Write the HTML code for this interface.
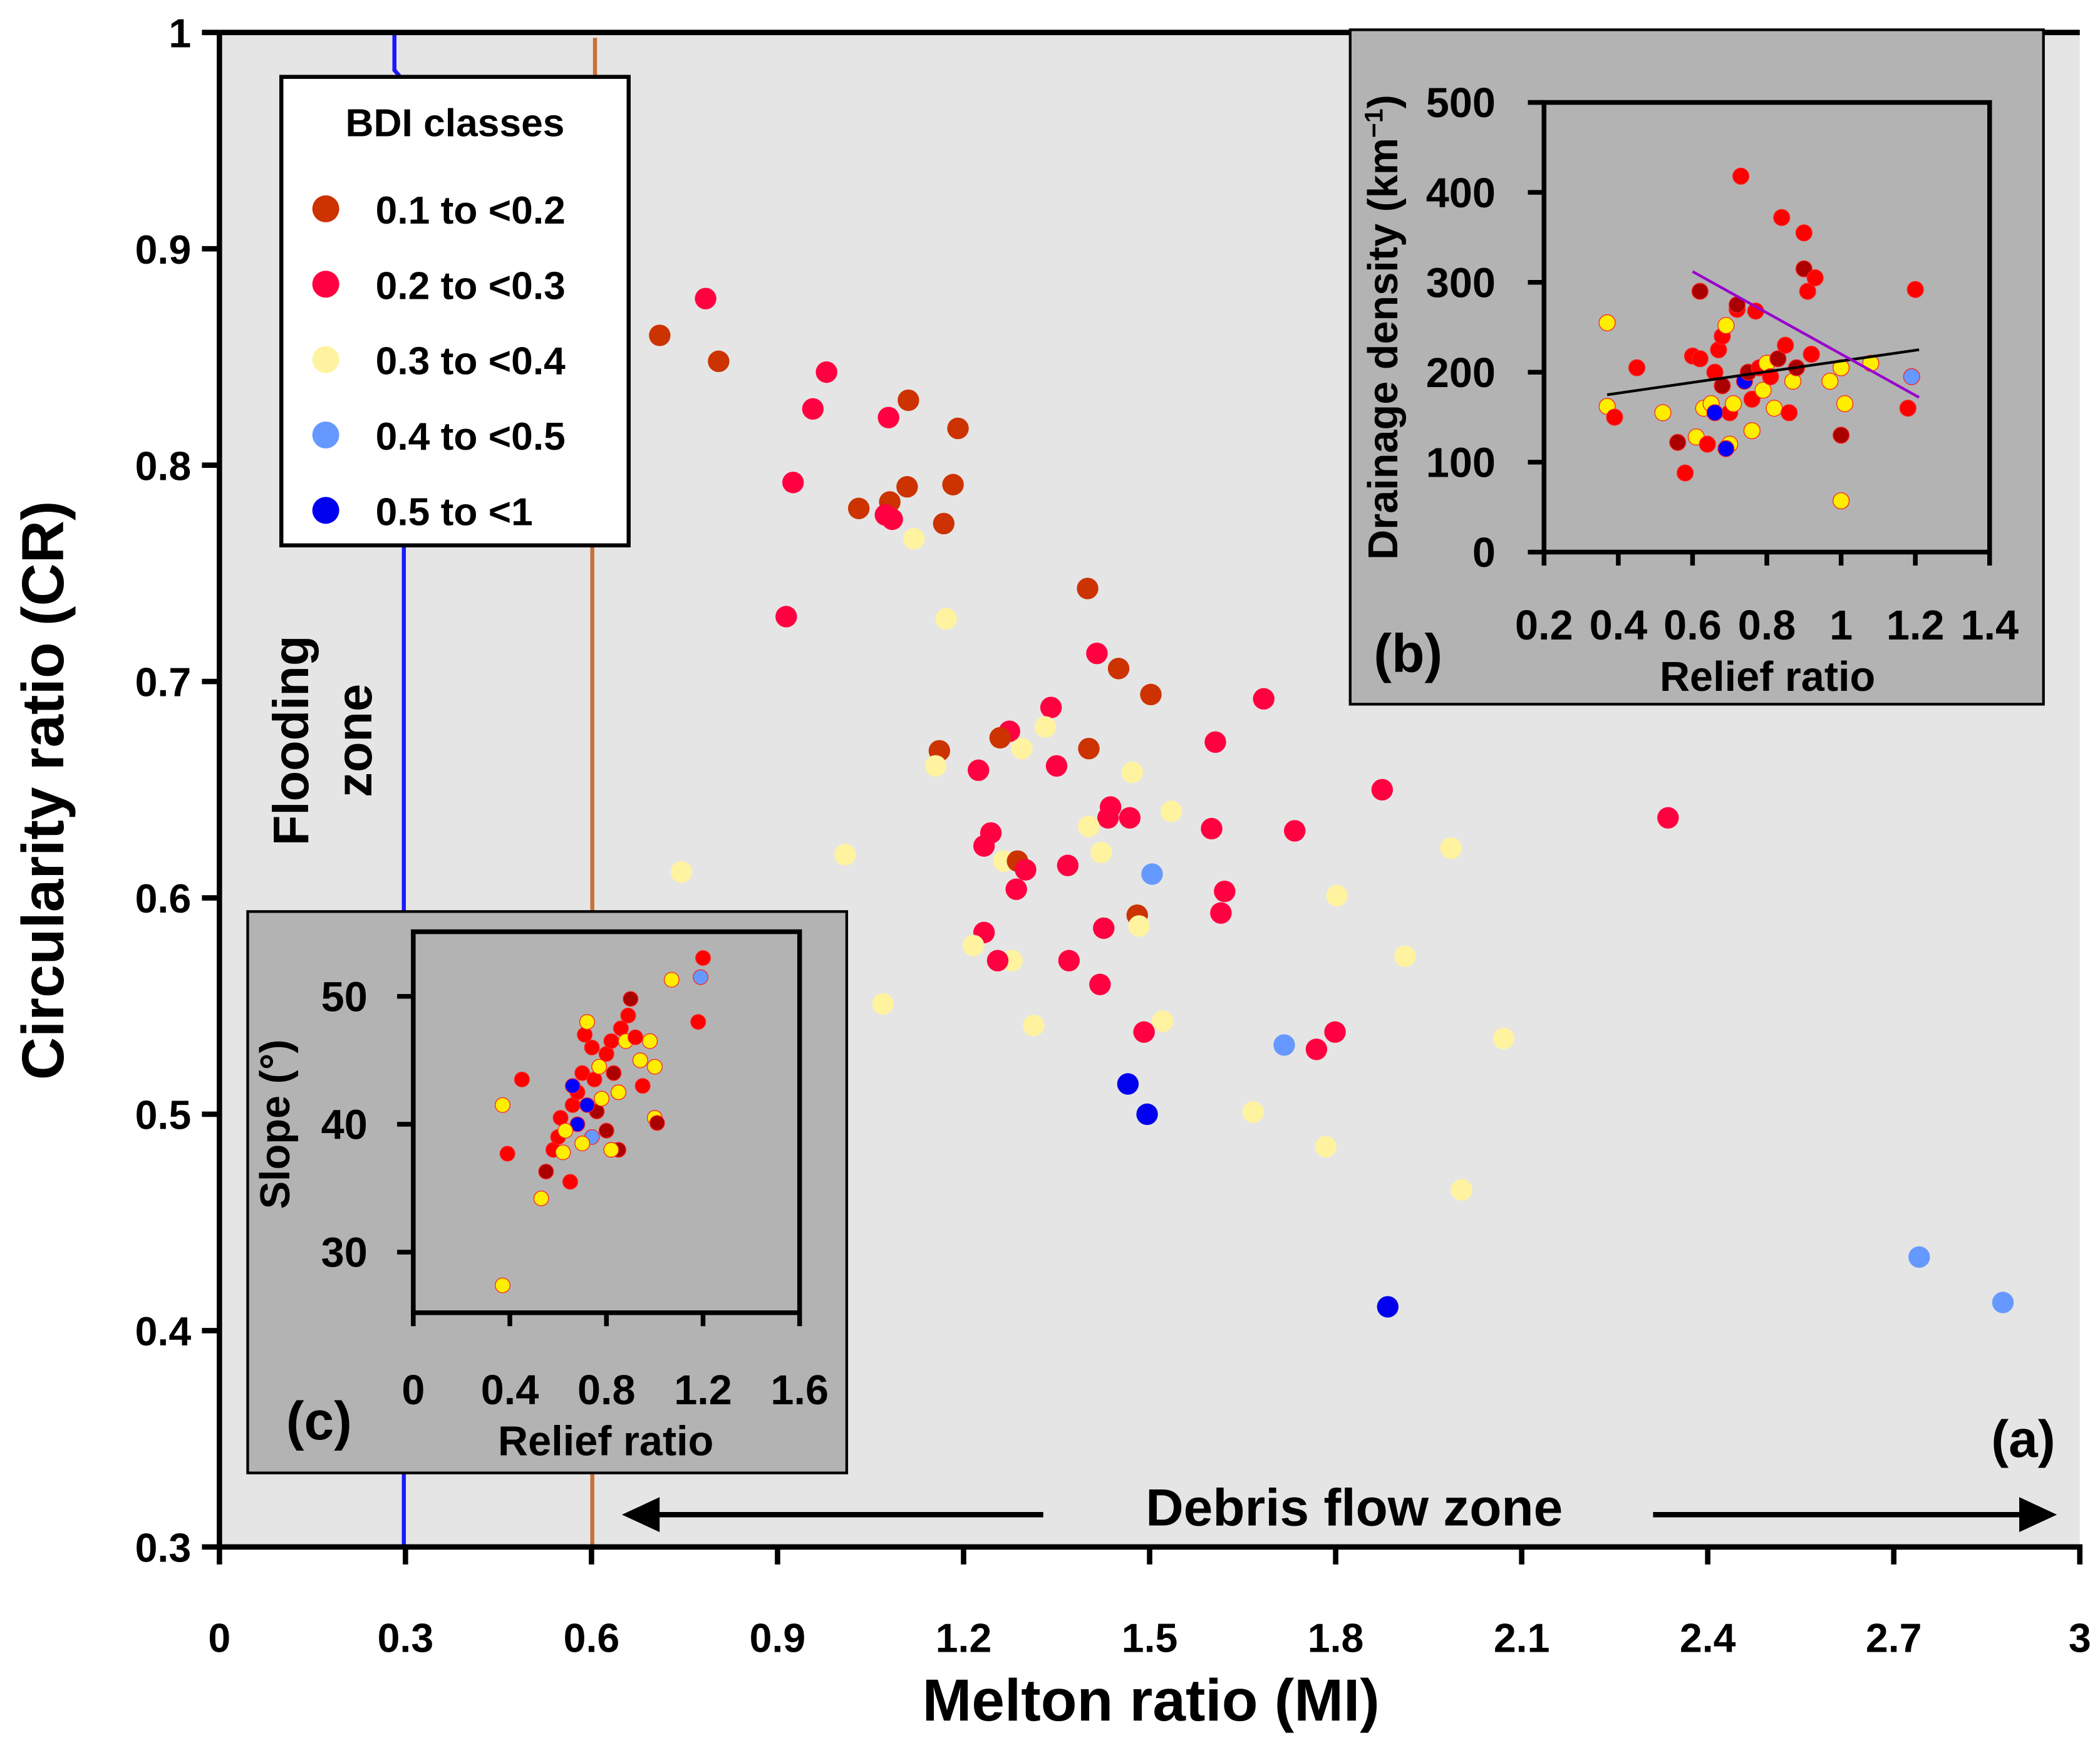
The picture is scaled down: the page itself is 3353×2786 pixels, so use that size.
<!DOCTYPE html>
<html><head><meta charset="utf-8"><style>
html,body{margin:0;padding:0;background:#fff}
svg{display:block}
text{font-family:"Liberation Sans",Arial,sans-serif;font-weight:bold;fill:#000}
</style></head><body>
<svg id="chart" width="3353" height="2786" viewBox="0 0 1560 1296" xmlns="http://www.w3.org/2000/svg">
<rect x="0" y="0" width="1560" height="1296" fill="#fff"/>
<rect x="163" y="24" width="1382" height="1125" fill="#e5e5e5"/>
<g id="main"></g>
<g id="insetB"></g>
<g id="insetC"></g>
</svg>
<script>
// Main chart data (Melton ratio, circularity ratio, BDI class index 0..4)
const mainX = [0.71,0.784,0.805,0.979,0.957,1.079,1.111,1.191,0.925,1.031,1.081,1.074,1.085,1.109,1.183,1.168,1.120,0.914,1.172,1.400,1.415,1.450,1.502,1.684,1.341,1.332,1.274,1.259,1.294,1.161,1.402,1.606,1.155,1.224,1.350,1.472,1.535,1.437,1.433,1.468,1.402,1.600,1.734,1.875,2.336,1.244,1.233,1.265,1.287,1.300,1.422,1.368,1.504,1.009,0.745,1.285,1.621,1.986,1.802,1.615,1.480,1.483,1.426,1.233,1.216,1.912,1.278,1.255,1.370,1.070,1.420,1.313,1.491,1.521,1.799,1.769,1.717,2.071,1.465,1.496,1.667,1.784,2.003,2.741,2.876,1.884];
const mainY = [0.86,0.877,0.848,0.843,0.826,0.822,0.830,0.817,0.792,0.780,0.783,0.777,0.775,0.790,0.791,0.773,0.766,0.730,0.729,0.743,0.713,0.706,0.694,0.692,0.688,0.679,0.677,0.674,0.669,0.668,0.669,0.672,0.661,0.659,0.661,0.658,0.640,0.642,0.637,0.637,0.633,0.632,0.631,0.650,0.637,0.630,0.624,0.617,0.617,0.613,0.621,0.615,0.611,0.620,0.612,0.604,0.603,0.623,0.601,0.593,0.592,0.587,0.586,0.584,0.578,0.573,0.571,0.571,0.571,0.551,0.560,0.541,0.538,0.543,0.538,0.530,0.532,0.535,0.514,0.500,0.501,0.485,0.465,0.434,0.413,0.411];
const mainC = [0,1,0,1,1,1,0,0,1,0,0,1,1,0,0,0,2,1,2,0,1,0,0,1,1,2,1,0,2,0,0,1,2,1,1,2,2,1,1,1,2,1,1,1,1,1,1,2,0,1,2,1,3,2,2,1,1,2,2,1,0,2,1,1,2,2,2,1,1,2,1,2,1,2,1,1,3,2,4,4,2,2,2,3,3,4];
const xTicks = [0,0.3,0.6,0.9,1.2,1.5,1.8,2.1,2.4,2.7,3];
const xTickLabels = ["0","0.3","0.6","0.9","1.2","1.5","1.8","2.1","2.4","2.7","3"];
const yTicks = [0.3,0.4,0.5,0.6,0.7,0.8,0.9,1];
const yTickLabels = ["0.3","0.4","0.5","0.6","0.7","0.8","0.9","1"];
const classLabels = ["0.1 to <0.2","0.2 to <0.3","0.3 to <0.4","0.4 to <0.5","0.5 to <1"];
// Inset b data
const bX = [0.37,0.37,0.39,0.45,0.52,0.56,0.58,0.60,0.61,0.62,0.63,0.64,0.65,0.66,0.67,0.68,0.69,0.70,0.70,0.71,0.72,0.73,0.74,0.75,0.76,0.76,0.77,0.78,0.79,0.80,0.81,0.82,0.83,0.84,0.85,0.86,0.87,0.88,0.90,0.90,0.91,0.93,0.92,0.97,1.00,1.00,1.01,1.00,1.08,1.18,1.20,1.19,0.66,0.69,0.62,0.68,0.72];
const bY = [255,162,150,205,155,122,88,218,128,290,160,120,165,200,225,240,252,120,155,165,270,418,190,200,135,170,268,205,180,210,195,160,215,372,230,155,190,205,315,355,290,305,220,190,205,130,165,57,210,160,292,195,155,115,215,185,275];
const bC = [2,2,1,1,2,0,1,1,2,0,2,1,2,1,1,1,2,2,1,2,1,1,4,0,2,1,1,1,2,2,1,2,0,1,1,1,2,0,0,1,1,1,1,2,2,0,2,2,2,1,1,3,4,4,1,0,0];
const bXTicks = [0.2,0.4,0.6,0.8,1,1.2,1.4];
const bXTickLabels = ["0.2","0.4","0.6","0.8","1","1.2","1.4"];
const bYTicks = [0,100,200,300,400,500];
const bYTickLabels = ["0","100","200","300","400","500"];
const bLineBlack = [[0.37,175],[1.21,225]];
const bLinePurple = [[0.6,312],[1.21,172]];
// Inset c data
const cX = [0.37,0.39,0.45,0.37,0.55,0.53,0.58,0.60,0.61,0.62,0.65,0.66,0.68,0.70,0.71,0.72,0.74,0.75,0.76,0.77,0.78,0.80,0.82,0.83,0.85,0.86,0.88,0.89,0.90,0.92,0.94,0.95,0.98,1.00,1.00,1.01,1.07,1.18,1.19,1.20,0.66,0.68,0.72,0.74,0.85,0.82,0.80,0.70,0.63];
const cY = [41.5,37.7,43.5,27.4,36.3,34.2,38,39,40.5,37.8,35.5,41.5,42.5,44,47,48,46,43.5,41,44.5,42,45.5,46.5,44,42.5,47.5,46.5,48.5,49.8,46.8,45,43,46.5,44.5,40.5,40.1,51.3,48,51.5,53,43,40,41.5,39,38,38,39.5,38.5,39.5];
const cC = [2,1,1,2,0,2,1,1,1,2,1,1,1,1,1,2,1,1,0,2,2,1,1,0,2,1,2,1,0,1,2,1,2,2,2,0,2,1,3,1,4,4,4,3,0,2,0,2,2];
const cXTicks = [0,0.4,0.8,1.2,1.6];
const cXTickLabels = ["0","0.4","0.8","1.2","1.6"];
const cYTicks = [30,40,50];
const cYTickLabels = ["30","40","50"];

const NS="http://www.w3.org/2000/svg";
function mk(parent,tag,attrs,txt){const e=document.createElementNS(NS,tag);for(const k in attrs)e.setAttribute(k,attrs[k]);if(txt!==undefined)e.textContent=txt;parent.appendChild(e);return e;}

const mainColors=["#cc3300","#ff0040","#fff3a0","#6699ff","#0000ee"];
const insetColors=["#aa0000","#ff0000","#ffee00","#6699ff","#0000ff"];

// ===== Main =====
const G=document.getElementById('main');
const sx=v=>163+v*(1545-163)/3;
const sy=v=>1149-(v-0.3)*(1149-24)/0.7;
let e;
e=mk(G,'polyline',{points:'293,24 293,52 300,60 300,1149',fill:'none',stroke:'#1a1aff','stroke-width':3});


e=mk(G,'polyline',{points:'442,28 442,60 440,70 440,1149',fill:'none',stroke:'#c87137','stroke-width':3});


for(let i=0;i<mainX.length;i++){
  e=mk(G,'circle',{cx:sx(mainX[i]),cy:sy(mainY[i]),r:8,fill:mainColors[mainC[i]]});
  
  
}
mk(G,'line',{x1:163,y1:24,x2:1545,y2:24,stroke:'#000','stroke-width':4});
mk(G,'line',{x1:163,y1:24,x2:163,y2:1151,stroke:'#000','stroke-width':4});
mk(G,'line',{x1:161,y1:1149,x2:1547,y2:1149,stroke:'#000','stroke-width':4});
for(let i=0;i<xTicks.length;i++){
  const x=sx(xTicks[i]);
  mk(G,'line',{x1:x,y1:1149,x2:x,y2:1162,stroke:'#000','stroke-width':4});
  e=mk(G,'text',{x:x,y:1227,'text-anchor':'middle','font-size':30},xTickLabels[i]);
  
  
}
for(let i=0;i<yTicks.length;i++){
  const y=sy(yTicks[i]);
  mk(G,'line',{x1:150,y1:y,x2:163,y2:y,stroke:'#000','stroke-width':4});
  e=mk(G,'text',{x:142,y:y+11,'text-anchor':'end','font-size':30},yTickLabels[i]);
  
  
}
e=mk(G,'text',{x:855,y:1278,'text-anchor':'middle','font-size':44},'Melton ratio (MI)');


e=mk(G,'text',{x:0,y:0,'text-anchor':'middle','font-size':44,transform:'translate(47,587) rotate(-90)'},'Circularity ratio (CR)');


e=mk(G,'text',{x:0,y:0,'text-anchor':'middle','font-size':37,transform:'translate(229,550) rotate(-90)'},'Flooding');


mk(G,'text',{x:0,y:0,'text-anchor':'middle','font-size':37,transform:'translate(276,550) rotate(-90)'},'zone');
e=mk(G,'text',{x:1006,y:1133,'text-anchor':'middle','font-size':39},'Debris flow zone');


mk(G,'line',{x1:775,y1:1125,x2:485,y2:1125,stroke:'#000','stroke-width':4});
mk(G,'polygon',{points:'462,1125 490,1112 490,1138',fill:'#000'});
mk(G,'line',{x1:1228,y1:1125,x2:1505,y2:1125,stroke:'#000','stroke-width':4});
mk(G,'polygon',{points:'1528,1125 1500,1112 1500,1138',fill:'#000'});
e=mk(G,'text',{x:1503,y:1082,'text-anchor':'middle','font-size':39},'(a)');


// legend
const L=mk(G,'g',{});


mk(L,'rect',{x:209,y:57,width:258,height:348,fill:'#fff',stroke:'#000','stroke-width':3});
mk(L,'text',{x:338,y:101,'text-anchor':'middle','font-size':29},'BDI classes');
for(let i=0;i<classLabels.length;i++){
  const y=155+i*56;
  const g=mk(L,'g',{});
  
  
  mk(g,'circle',{cx:242,cy:y,r:10,fill:mainColors[i]});
  mk(g,'text',{x:279,y:y+11,'font-size':29},classLabels[i]);
}

// ===== Inset b =====
const B=document.getElementById('insetB');
mk(B,'rect',{x:1003,y:22,width:515,height:501,fill:'#b3b3b3',stroke:'#000','stroke-width':2});
const bx=v=>1147+(v-0.2)*(1478-1147)/1.2;
const by=v=>410-v*(410-76)/500;
for(let i=0;i<bX.length;i++){
  e=mk(B,'circle',{cx:bx(bX[i]),cy:by(bY[i]),r:6,fill:insetColors[bC[i]],stroke:'#ff2020','stroke-width':0.6});
  
  
}
e=mk(B,'line',{x1:bx(bLineBlack[0][0]),y1:by(bLineBlack[0][1]),x2:bx(bLineBlack[1][0]),y2:by(bLineBlack[1][1]),stroke:'#000','stroke-width':2});


e=mk(B,'line',{x1:bx(bLinePurple[0][0]),y1:by(bLinePurple[0][1]),x2:bx(bLinePurple[1][0]),y2:by(bLinePurple[1][1]),stroke:'#9900cc','stroke-width':2});


mk(B,'rect',{x:1147,y:76,width:331,height:334,fill:'none',stroke:'#000','stroke-width':3.5});
for(let i=0;i<bXTicks.length;i++){
  const x=bx(bXTicks[i]);
  mk(B,'line',{x1:x,y1:410,x2:x,y2:420,stroke:'#000','stroke-width':3.5});
  e=mk(B,'text',{x:x,y:475,'text-anchor':'middle','font-size':31},bXTickLabels[i]);
  
  
}
for(let i=0;i<bYTicks.length;i++){
  const y=by(bYTicks[i]);
  mk(B,'line',{x1:1135,y1:y,x2:1147,y2:y,stroke:'#000','stroke-width':3.5});
  e=mk(B,'text',{x:1111,y:y+11,'text-anchor':'end','font-size':31},bYTickLabels[i]);
  
  
}
e=mk(B,'text',{x:1313,y:513,'text-anchor':'middle','font-size':31},'Relief ratio');


e=mk(B,'text',{x:0,y:0,'text-anchor':'middle','font-size':31,transform:'translate(1038,243) rotate(-90)'});


e.innerHTML='Drainage density (km<tspan dy="-11" font-size="19">−1</tspan><tspan dy="11">)</tspan>';
e=mk(B,'text',{x:1046,y:499,'text-anchor':'middle','font-size':40},'(b)');



// ===== Inset c =====
const C=document.getElementById('insetC');
mk(C,'rect',{x:184,y:677,width:445,height:417,fill:'#b3b3b3',stroke:'#000','stroke-width':2});
const cx=v=>307+v*(594-307)/1.6;
const cy=v=>835-(v-40)*9.5;
for(let i=0;i<cX.length;i++){
  e=mk(C,'circle',{cx:cx(cX[i]),cy:cy(cY[i]),r:5.5,fill:insetColors[cC[i]],stroke:'#ff2020','stroke-width':0.6});
  
  
}
mk(C,'rect',{x:307,y:692,width:287,height:283,fill:'none',stroke:'#000','stroke-width':3.5});
for(let i=0;i<cXTicks.length;i++){
  const x=cx(cXTicks[i]);
  mk(C,'line',{x1:x,y1:975,x2:x,y2:985,stroke:'#000','stroke-width':3.5});
  e=mk(C,'text',{x:x,y:1043,'text-anchor':'middle','font-size':31},cXTickLabels[i]);
  
  
}
for(let i=0;i<cYTicks.length;i++){
  const y=cy(cYTicks[i]);
  mk(C,'line',{x1:295,y1:y,x2:307,y2:y,stroke:'#000','stroke-width':3.5});
  e=mk(C,'text',{x:273,y:y+11,'text-anchor':'end','font-size':31},cYTickLabels[i]);
  
  
}
e=mk(C,'text',{x:450,y:1081,'text-anchor':'middle','font-size':31},'Relief ratio');


e=mk(C,'text',{x:0,y:0,'text-anchor':'middle','font-size':31,transform:'translate(215,835) rotate(-90)'},'Slope (°)');


e=mk(C,'text',{x:237,y:1069,'text-anchor':'middle','font-size':40},'(c)');


</script>
</body></html>
